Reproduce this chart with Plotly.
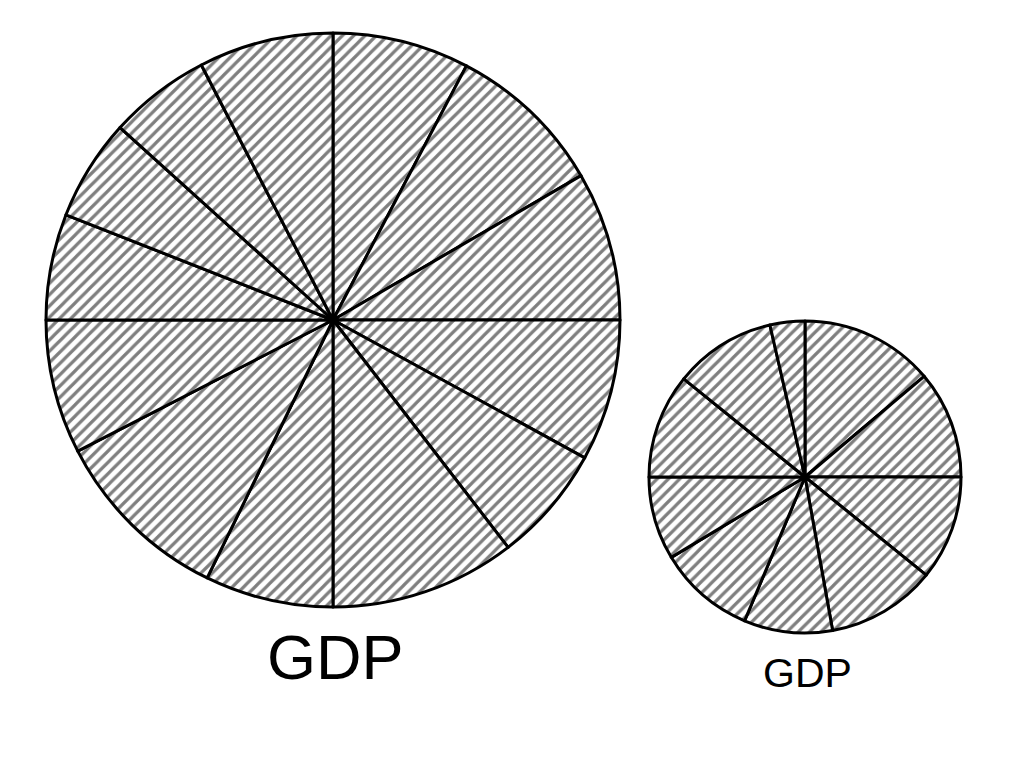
import plotly.graph_objects as go

# Data (slice sizes, clockwise from 12 o'clock)
big_labels = [f"L{i+1}" for i in range(13)]
big_values = [27.7, 32.1, 30.2, 28.7, 23.7, 37.6, 26.0, 36.8, 27.2, 21.5, 20.6, 20.6, 27.3]
small_labels = [f"S{i+1}" for i in range(10)]
small_values = [49.8, 40.2, 39.0, 40.8, 33.0, 36.2, 31.0, 39.0, 38.0, 13.0]
titles = ["GDP", "GDP"]

W, H = 1024, 764
OFF = 8  # page body offset

def dom(cx, cy, r):
    cx -= OFF
    cy -= OFF
    return dict(x=[(cx - r) / W, (cx + r) / W], y=[1 - (cy + r) / H, 1 - (cy - r) / H])

def pie(labels, values, domain):
    return go.Pie(
        labels=labels, values=values, sort=False, direction="clockwise", rotation=0,
        domain=domain, textinfo="none", hoverinfo="skip", showlegend=False,
        marker=dict(colors=["white"] * len(values),
                    line=dict(color="black", width=3),
                    pattern=dict(shape="/", fgcolor="black", bgcolor="white",
                                 size=8, solidity=0.4, fillmode="overlay")),
    )

fig = go.Figure()
fig.add_trace(pie(big_labels, big_values, dom(333, 320, 287)))
fig.add_trace(pie(small_labels, small_values, dom(805, 477, 156)))

fig.add_annotation(text=titles[0], x=(335 - OFF) / W, y=1 - (657 - OFF) / H, xref="paper", yref="paper",
                   showarrow=False, xanchor="center", yanchor="middle",
                   font=dict(family="Liberation Sans, Arial, sans-serif", size=63, color="black"))
fig.add_annotation(text=titles[1], x=(807 - OFF) / W, y=1 - (673 - OFF) / H, xref="paper", yref="paper",
                   showarrow=False, xanchor="center", yanchor="middle",
                   font=dict(family="Liberation Sans, Arial, sans-serif", size=41, color="black"))

fig.update_layout(width=W, height=H, margin=dict(l=0, r=0, t=0, b=0),
                  paper_bgcolor="white", plot_bgcolor="white")
fig.write_html("out.html")
